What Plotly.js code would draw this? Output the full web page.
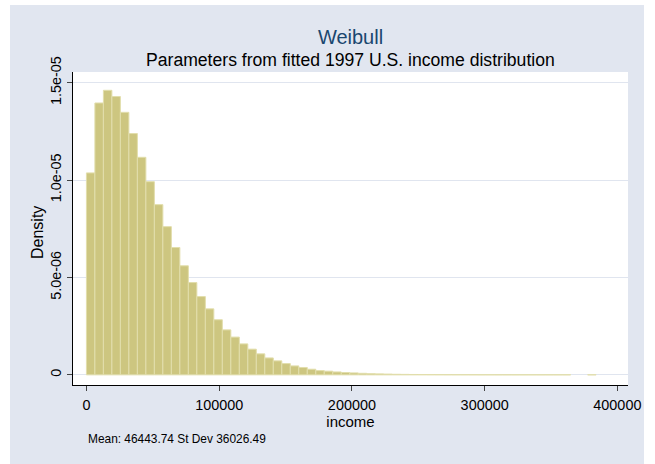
<!DOCTYPE html>
<html>
<head>
<meta charset="utf-8">
<script src="https://cdn.plot.ly/plotly-3.0.1.min.js"></script>
<style>
  html, body { margin: 0; padding: 0; background: #ffffff; width: 655px; height: 464px; overflow: hidden; }
  #chart { position: absolute; left: 10px; top: 5px; width: 634px; height: 459px; }
</style>
</head>
<body>
<div id="chart"></div>
<script>
// Histogram of simulated Weibull incomes: 60 bins of equal width starting at 0
const binStart = 0;
const binWidth = 6400;
const density = [
  1.037e-5, 1.396e-5, 1.461e-5, 1.429e-5, 1.348e-5, 1.239e-5, 1.117e-5, 0.992e-5, 0.874e-5, 0.761e-5,
  0.654e-5, 0.560e-5, 0.474e-5, 0.402e-5, 0.339e-5, 0.283e-5, 0.231e-5, 0.194e-5, 0.159e-5, 0.132e-5,
  0.108e-5, 0.087e-5, 0.072e-5, 0.058e-5, 0.046e-5, 0.038e-5, 0.029e-5, 0.022e-5, 0.019e-5, 0.015e-5,
  0.012e-5, 0.010e-5, 0.008e-5, 0.006e-5, 0.005e-5, 0.004e-5, 0.003e-5, 0.0025e-5, 0.002e-5, 0.0018e-5,
  0.0016e-5, 0.0014e-5, 0.0012e-5, 0.0011e-5, 0.0010e-5, 0.0009e-5, 0.0008e-5, 0.0008e-5, 0.0007e-5, 0.0007e-5,
  0.0006e-5, 0.0006e-5, 0.0006e-5, 0.0005e-5, 0.0005e-5, 0.0005e-5, 0.0005e-5, null, null, 0.0005e-5
];
const yTickVals = [0, 5e-6, 1e-5, 1.5e-5];
const yTickText = ["0", "5.0e-06", "1.0e-05", "1.5e-05"];
const xTickVals = [0, 100000, 200000, 300000, 400000];
const xTickText = ["0", "100000", "200000", "300000", "400000"];
const titleText = "Weibull";
const subtitleText = "Parameters from fitted 1997 U.S. income distribution";
const noteText = "Mean: 46443.74 St Dev 36026.49";

const centers = density.map((_, i) => binStart + (i + 0.5) * binWidth);

const trace = {
  type: "bar",
  x: centers,
  y: density,
  width: binWidth,
  marker: { color: "rgb(205,198,128)", line: { color: "rgb(226,222,172)", width: 1 } },
  hoverinfo: "x+y"
};

const font = "Liberation Sans, Arial, sans-serif";
const layout = {
  width: 634, height: 459,
  paper_bgcolor: "#e1e6f0",
  plot_bgcolor: "#ffffff",
  margin: { l: 63, r: 16, t: 67, b: 79 },
  showlegend: false,
  bargap: 0,
  font: { family: font, color: "#000000", size: 14 },
  title: {
    text: titleText,
    font: { family: font, size: 20, color: "#1a476f" },
    x: 0.5, xref: "paper", xanchor: "center",
    y: 1 - 32 / 459, yref: "container", yanchor: "middle"
  },
  xaxis: {
    range: [-10100, 408000],
    tickvals: xTickVals, ticktext: xTickText,
    ticks: "outside", ticklen: 5, tickcolor: "#444444", tickwidth: 1,
    ticklabelstandoff: 2,
    showline: true, linecolor: "#000000", linewidth: 1,
    showgrid: false, zeroline: false,
    tickfont: { family: font, size: 14.4, color: "#000000" },
    title: { text: "income", font: { family: font, size: 15, color: "#000000" }, standoff: 0 }
  },
  yaxis: {
    range: [-5.2e-7, 1.555e-5],
    tickvals: yTickVals, ticktext: yTickText,
    tickangle: -90,
    ticks: "outside", ticklen: 5, tickcolor: "#444444", tickwidth: 1,
    showline: true, linecolor: "#000000", linewidth: 1,
    showgrid: true, gridcolor: "#e0e5ef", gridwidth: 1,
    zeroline: false,
    tickfont: { family: font, size: 14.4, color: "#000000" },
    title: { text: "" }
  },
  annotations: [
    { text: subtitleText, xref: "paper", x: 0.5, xanchor: "center",
      yref: "paper", y: 1 + 11.5 / 313, yanchor: "middle", showarrow: false,
      font: { family: font, size: 17.6, color: "#000000" } },
    { text: "Density", textangle: -90, xref: "paper", x: -36 / 555, xanchor: "center",
      yref: "paper", y: (380 - 228) / 313, yanchor: "middle", showarrow: false,
      font: { family: font, size: 16, color: "#000000" } },
    { text: noteText, xref: "paper", x: 13 / 555, xanchor: "left",
      yref: "paper", y: -54 / 313, yanchor: "middle", showarrow: false,
      font: { family: font, size: 11.9, color: "#000000" } }
  ]
};

Plotly.newPlot("chart", [trace], layout, { displayModeBar: false, staticPlot: true });
</script>
</body>
</html>
